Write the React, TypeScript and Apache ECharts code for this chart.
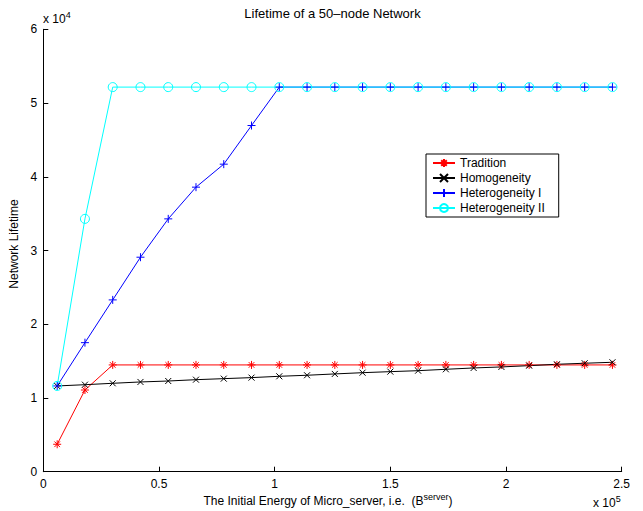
import React, { useEffect, useRef } from "react";
import * as echarts from "echarts";

const energy = [6000, 18000, 30000, 42000, 54000, 66000, 78000, 90000, 102000, 114000, 126000, 138000, 150000, 162000, 174000, 186000, 198000, 210000, 222000, 234000, 246000];
const tradition = [3720, 11080, 14480, 14480, 14480, 14480, 14480, 14480, 14480, 14480, 14480, 14480, 14480, 14480, 14480, 14480, 14480, 14480, 14480, 14480, 14480];
const homogeneity = [11630, 11800, 11990, 12170, 12300, 12480, 12620, 12760, 12940, 13080, 13260, 13430, 13570, 13700, 13890, 14070, 14210, 14380, 14570, 14710, 14840];
const heteroI = [11630, 17500, 23300, 29090, 34290, 38590, 41710, 46950, 52160, 52160, 52160, 52160, 52160, 52160, 52160, 52160, 52160, 52160, 52160, 52160, 52160];
const heteroII = [11630, 34290, 52160, 52160, 52160, 52160, 52160, 52160, 52160, 52160, 52160, 52160, 52160, 52160, 52160, 52160, 52160, 52160, 52160, 52160, 52160];
const seriesNames = ["Tradition", "Homogeneity", "Heterogeneity I", "Heterogeneity II"];
const xTicks = ["0", "0.5", "1", "1.5", "2", "2.5"];
const yTicks = ["0", "1", "2", "3", "4", "5", "6"];

const FONT = "'Liberation Sans', Arial, Helvetica, sans-serif";

const ASTERISK = "path://M5,0L5,10M0,5L10,5M1.5,1.5L8.5,8.5M8.5,1.5L1.5,8.5";
const CROSS = "path://M1,1L9,9M9,1L1,9";
const PLUS = "path://M5,0L5,10M0,5L10,5";

function pairs(vals: number[]) {
  return energy.map((x, i) => [x, vals[i]]);
}

const supRich = {
  a: { fontSize: 12, fontFamily: FONT, lineHeight: 15, verticalAlign: "bottom" },
  s: { fontSize: 9, fontFamily: FONT, lineHeight: 10, verticalAlign: "top" },
};

export default function App() {
  const ref = useRef<HTMLDivElement>(null);
  useEffect(() => {
    if (!ref.current) return;
    const chart = echarts.init(ref.current, null, { renderer: "svg" });
    const mk = (name: string, vals: number[], color: string, symbol: string, size: number, fill: string) => ({
      name,
      type: "line",
      data: pairs(vals),
      symbol,
      symbolSize: size,
      showAllSymbol: true,
      lineStyle: { color, width: 1 },
      itemStyle: { color: fill, borderColor: color, borderWidth: 1 },
      emphasis: { disabled: true },
    });
    chart.setOption({
      animation: false,
      backgroundColor: "#ffffff",
      textStyle: { fontFamily: FONT },
      grid: { left: 43.3, right: 21.3, top: 29.3, bottom: 39.3 },
      xAxis: {
        type: "value",
        min: 0,
        max: 250000,
        interval: 50000,
        axisLine: { lineStyle: { color: "#000", width: 1 } },
        axisTick: { inside: true, length: 5, lineStyle: { color: "#000" } },
        splitLine: { show: false },
        axisLabel: {
          color: "#000",
          fontSize: 12,
          fontFamily: FONT,
          margin: 6,
          formatter: (v: number) => xTicks[Math.round(v / 50000)] ?? "",
        },
      },
      yAxis: {
        type: "value",
        min: 0,
        max: 60000,
        interval: 10000,
        axisLine: { show: true, lineStyle: { color: "#000", width: 1 } },
        axisTick: { show: true, inside: true, length: 5, lineStyle: { color: "#000" } },
        splitLine: { show: false },
        axisLabel: {
          color: "#000",
          fontSize: 12,
          fontFamily: FONT,
          margin: 6,
          formatter: (v: number) => yTicks[Math.round(v / 10000)] ?? "",
        },
      },
      legend: {
        orient: "vertical",
        left: 426,
        top: 154,
        data: seriesNames,
        itemWidth: 22,
        itemHeight: 10,
        itemGap: 3,
        padding: [3, 14, 3, 6],
        borderColor: "#000",
        borderWidth: 1,
        backgroundColor: "#fff",
        textStyle: { color: "#000", fontSize: 12, fontFamily: FONT },
        selectedMode: false,
      },
      graphic: [
        {
          type: "text",
          x: 332.5,
          y: 7,
          style: { text: "Lifetime of a 50\u2013node Network", fontSize: 13, fontFamily: FONT, fill: "#000", align: "center", verticalAlign: "top" },
        },
        {
          type: "text",
          x: 14,
          y: 244,
          rotation: Math.PI / 2,
          style: { text: "Network Lifetime", fontSize: 12, fontFamily: FONT, fill: "#000", align: "center", verticalAlign: "middle" },
        },
        {
          type: "text",
          x: 43,
          y: 10,
          style: { text: "{a|x 10}{s|4}", fontFamily: FONT, fill: "#000", align: "left", verticalAlign: "top", rich: supRich },
        },
        {
          type: "text",
          x: 593,
          y: 494,
          style: { text: "{a|x 10}{s|5}", fontFamily: FONT, fill: "#000", align: "left", verticalAlign: "top", rich: supRich },
        },
        {
          type: "text",
          x: 328,
          y: 492,
          style: {
            text: "{a|The Initial Energy of Micro_server, i.e.\u00a0\u00a0(B}{s|server}{a|)}",
            fontFamily: FONT,
            fill: "#000",
            align: "center",
            verticalAlign: "top",
            rich: supRich,
          },
        },
      ],
      series: [
        mk(seriesNames[0], tradition, "#ff0000", ASTERISK, 8, "#ff0000"),
        mk(seriesNames[1], homogeneity, "#000000", CROSS, 6, "#000000"),
        mk(seriesNames[2], heteroI, "#0000ff", PLUS, 8, "#0000ff"),
        mk(seriesNames[3], heteroII, "#00ffff", "circle", 9, "rgba(0,0,0,0)"),
      ],
    });
    return () => chart.dispose();
  }, []);
  return <div ref={ref} style={{ position: "fixed", left: 0, top: 0, width: 643, height: 511 }} />;
}
